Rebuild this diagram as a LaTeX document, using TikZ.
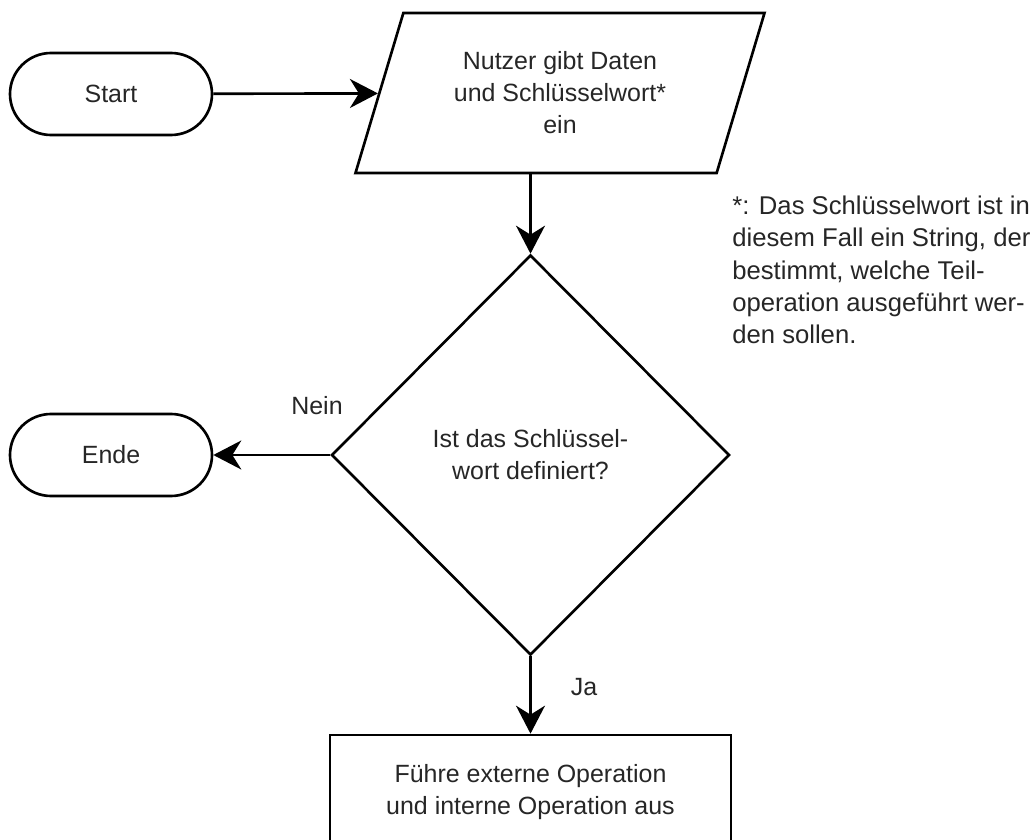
\documentclass[tikz,border=0pt]{standalone}
\usepackage{fontspec}
\setmainfont{Liberation Sans}
\usepackage{tikz}
\usetikzlibrary{positioning}
\usetikzlibrary{calc}
\usetikzlibrary{arrows.meta,shapes}

\tikzset{
  terminal/.style={draw, line width=1.5pt, rounded corners=0.82cm, minimum width=4.04cm, minimum height=1.64cm, inner sep=0pt},
  io/.style={draw, line width=1.5pt, trapezium, trapezium left angle=70, trapezium right angle=110, trapezium stretches=true, minimum width=8.2cm, minimum height=3.2cm, align=center},
  decision/.style={draw, line width=1.5pt, diamond, minimum width=7.96cm, minimum height=8cm, inner sep=0pt, align=center},
  process/.style={draw, line width=1.5pt, rectangle, minimum width=8.02cm, minimum height=2.3cm, align=center},
  flow/.style={line width=1.5pt, -{Stealth[length=5.6mm,width=5.8mm,inset=1.8mm]}},
}

\begin{document}
\begin{tikzpicture}[font=\fontsize{14.2pt}{18.2pt}\selectfont, text=black!85]
\useasboundingbox (0,0) rectangle (20.6,-16.8);
\clip (0,0) rectangle (20.6,-16.8);

\node[terminal](start) at (2.22,-1.88){Start};
\node[io](input) at (11.2,-1.86){Nutzer gibt Daten\\und Schlüsselwort*\\ein};
\node[decision](dec) at (10.61,-9.1){Ist das Schlüssel-\\wort definiert?};
\node[terminal](end) at (2.22,-9.1){Ende};
\node[process](op) at (10.61,-15.85){Führe externe Operation\\und interne Operation aus};

\node[](nein) at (6.34,-8.12){Nein};
\node[](ja) at (11.68,-13.74){Ja};

\node[anchor=west, align=left, inner sep=0pt, font=\fontsize{14.6pt}{18.4pt}\selectfont](note) at (14.64,-5.4){*: Das Schlüsselwort ist in\\diesem Fall ein String, der\\bestimmt, welche Teil-\\operation ausgeführt wer-\\den sollen.};

\path
(start) edge[flow] (input)
(input.south -| dec.north) edge[flow] (dec.north)
(dec) edge[flow] (end)
(dec) edge[flow] (op);
\end{tikzpicture}
\end{document}
